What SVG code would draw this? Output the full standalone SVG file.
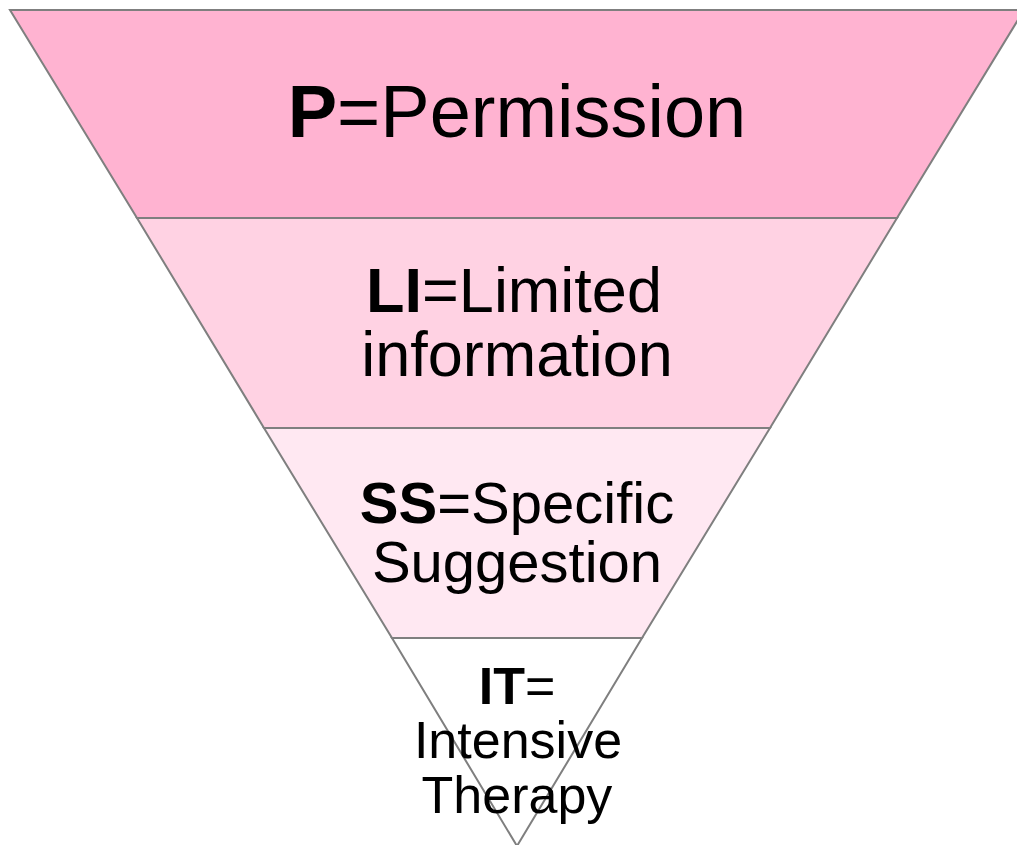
<svg xmlns="http://www.w3.org/2000/svg" width="1017" height="845" viewBox="0 0 1017 845">
  <style>
    .layer { stroke: #7F7F7F; stroke-width: 2; stroke-linejoin: miter; }
    .t { font-family: "Liberation Sans", Arial, sans-serif; fill: #000; text-anchor: middle; }
    .b { font-weight: bold; }
  </style>
  <rect width="1017" height="845" fill="#ffffff"/>
  <g id="layer-p">
    <polygon class="layer" fill="#FFB3D1" points="10,10 1024,10 897,218 137,218"/>
    <text class="t" x="517" y="137" font-size="74"><tspan class="b">P</tspan>=Permission</text>
  </g>
  <g id="layer-li">
    <polygon class="layer" fill="#FFD2E3" points="137,218 897,218 770,428 264,428"/>
    <text class="t" x="514" y="312" font-size="63"><tspan class="b">LI</tspan>=Limited</text>
    <text class="t" x="517" y="376" font-size="63">information</text>
  </g>
  <g id="layer-ss">
    <polygon class="layer" fill="#FFE8F2" points="264,428 770,428 642,638 392,638"/>
    <text class="t" x="517" y="523" font-size="58"><tspan class="b">SS</tspan>=Specific</text>
    <text class="t" x="517" y="582" font-size="58">Suggestion</text>
  </g>
  <g id="layer-it">
    <polygon class="layer" fill="#FFFFFF" points="392,638 642,638 517,846"/>
    <text class="t" x="517" y="704" font-size="52"><tspan class="b">IT</tspan>=</text>
    <text class="t" x="518" y="758" font-size="52">Intensive</text>
    <text class="t" x="517" y="813" font-size="52">Therapy</text>
  </g>
  <g id="connectors"></g>
</svg>
